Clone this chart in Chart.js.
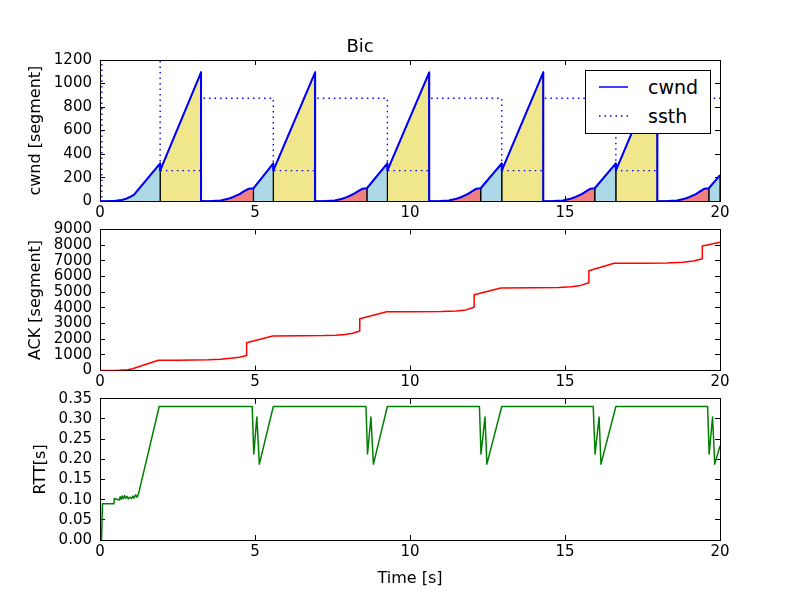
<!DOCTYPE html>
<html>
<head>
<meta charset="utf-8">
<title>Bic</title>
<script src="https://cdn.jsdelivr.net/npm/chart.js@4.4.1/dist/chart.umd.min.js"></script>
<style>
  body { margin: 0; background: #fff; }
  #wrap { position: relative; width: 800px; height: 600px; }
  #wrap canvas { position: absolute; left: 0; top: 0; }
  #legend { position: absolute; left: 585px; top: 70px; width: 124px; height: 62px;
            border: 1px solid #000; background: #fff; font-family: "DejaVu Sans"; font-size: 19px; color: #000; }
  #legend svg { position: absolute; left: 0; top: 0; }
  #legend span { position: absolute; left: 62px; line-height: 24px; }
</style>
</head>
<body>
<div id="wrap">
  <canvas id="cwndChart" width="800" height="600"></canvas>
  <canvas id="ackChart" width="800" height="600"></canvas>
  <canvas id="rttChart" width="800" height="600"></canvas>
  <div id="legend">
    <svg width="124" height="62">
      <line x1="13" y1="16" x2="42" y2="16" stroke="#0000ff" stroke-width="1.5"/>
      <line x1="13" y1="45" x2="42" y2="45" stroke="#0000ff" stroke-width="1.5" stroke-dasharray="1.5,4"/>
    </svg>
    <span style="top:4px">cwnd</span>
    <span style="top:33px">ssth</span>
  </div>
</div>
<script>
// Eixo de tempo e ticks
const xTicks = [0, 5, 10, 15, 20];
const cwndTicks = [0, 200, 400, 600, 800, 1000, 1200];
const ackTicks = [0, 1000, 2000, 3000, 4000, 5000, 6000, 7000, 8000, 9000];
const rttTicks = [0, 0.05, 0.10, 0.15, 0.20, 0.25, 0.30, 0.35];

// cwnd [segment]
const cwndT = [0, 0.3, 0.5, 0.7, 0.85, 1.0, 1.1, 1.94, 1.94, 3.26, 3.26,
  3.6, 3.9, 4.1, 4.3, 4.5, 4.65, 4.8, 4.95, 5.59, 5.59, 6.94, 6.94,
  7.28, 7.58, 7.78, 7.98, 8.18, 8.33, 8.47, 8.61, 9.27, 9.27, 10.62, 10.62,
  10.96, 11.26, 11.46, 11.66, 11.86, 12.01, 12.14, 12.28, 12.96, 12.96, 14.30, 14.30,
  14.64, 14.94, 15.14, 15.34, 15.54, 15.69, 15.82, 15.96, 16.64, 16.64, 17.98, 17.98,
  18.32, 18.62, 18.82, 19.02, 19.22, 19.37, 19.50, 19.64, 20];
const cwndV = [0, 1, 4, 10, 22, 40, 56, 321, 260, 1095, 0,
  1, 7, 18, 36, 60, 85, 106, 110, 321, 260, 1095, 0,
  1, 7, 18, 37, 61, 86, 106, 110, 322, 260, 1094, 0,
  1, 7, 18, 36, 60, 85, 106, 110, 321, 260, 1095, 0,
  1, 7, 18, 36, 60, 85, 106, 110, 321, 260, 1095, 0,
  1, 7, 18, 36, 60, 85, 106, 110, 221];

// ssth [segment] (valor inicial fora da escala)
const ssthT = [0, 0.06, 0.06, 1.94, 1.94, 3.26, 3.26, 5.59, 5.59, 6.94, 6.94, 9.27,
  9.27, 10.62, 10.62, 12.96, 12.96, 14.30, 14.30, 16.64, 16.64, 17.98, 17.98, 20];
const ssthV = [0, 0, 2000, 2000, 260, 260, 875, 875, 260, 260, 875, 875,
  260, 260, 875, 875, 260, 260, 875, 875, 260, 260, 875, 875];

// fases coloridas sob a curva de cwnd
const redPhases = [[3.26, 4.95], [6.94, 8.61], [10.62, 12.28], [14.30, 15.96], [17.98, 19.64]];
const bluePhases = [[0, 1.94], [4.95, 5.59], [8.61, 9.27], [12.28, 12.96], [15.96, 16.64], [19.64, 20]];
const yellowPhases = [[1.94, 3.26], [5.59, 6.94], [9.27, 10.62], [12.96, 14.30], [16.64, 17.98]];

// ACK [segment]
const ackT = [0, 0.5, 0.9, 1.05, 1.88, 2.5, 3.0, 3.5, 3.9, 4.2, 4.5, 4.73, 4.73, 5.57, 6.5,
  7.2, 7.6, 7.9, 8.15, 8.38, 8.38, 9.25, 10.0, 11.0, 11.5, 11.8, 12.07, 12.07, 12.93, 14.0,
  14.8, 15.2, 15.5, 15.77, 15.77, 16.58, 17.5, 18.3, 18.8, 19.15, 19.43, 19.43, 20];
const ackV = [0, 10, 60, 120, 660, 665, 672, 690, 730, 780, 850, 960, 1780, 2210, 2215,
  2230, 2260, 2300, 2380, 2520, 3310, 3750, 3755, 3770, 3800, 3870, 4040, 4830, 5270, 5275,
  5300, 5350, 5430, 5600, 6370, 6840, 6845, 6860, 6900, 6980, 7130, 7940, 8180];

// RTT [s]
const rttT = [0.05, 0.08, 0.45, 0.46, 0.6, 0.62, 0.65, 0.68, 0.72, 0.75, 0.8, 0.84, 0.88, 0.92,
  0.97, 1.02, 1.06, 1.1, 1.15, 1.2, 1.25, 1.91,
  4.91, 4.96, 5.06, 5.14, 5.59,
  8.58, 8.63, 8.74, 8.82, 9.27,
  12.24, 12.29, 12.42, 12.48, 12.96,
  15.91, 15.97, 16.10, 16.16, 16.64,
  19.60, 19.65, 19.76, 19.83, 20];
const rttV = [0, 0.090, 0.090, 0.103, 0.100, 0.099, 0.107, 0.101, 0.109, 0.102, 0.110, 0.103, 0.108, 0.102,
  0.106, 0.103, 0.109, 0.104, 0.112, 0.106, 0.117, 0.331,
  0.331, 0.213, 0.305, 0.188, 0.331,
  0.331, 0.213, 0.305, 0.188, 0.331,
  0.331, 0.213, 0.305, 0.188, 0.331,
  0.331, 0.213, 0.305, 0.188, 0.331,
  0.331, 0.213, 0.305, 0.188, 0.233];

const FONT = "DejaVu Sans";
Chart.defaults.font.family = FONT;
Chart.defaults.color = "#000";

const toXY = (ts, vs) => ts.map((t, i) => ({x: t, y: vs[i]}));

function phasePoints(t0, t1) {
  const pts = [{x: t0, y: 0}];
  cwndT.forEach((t, i) => { if (t >= t0 && t <= t1) pts.push({x: t, y: cwndV[i]}); });
  pts.push({x: t1, y: 0});
  return pts;
}

// ticks para dentro nos quatro lados, como no matplotlib
function frame(yTicks, yTitle, yTitlePad, fmt, xTitle) {
  const tickFont = {family: FONT, size: 15};
  const inward = {display: true, drawOnChartArea: false, drawTicks: true, tickLength: -5, color: "#000", lineWidth: 1};
  const edge = {display: true, color: "#000", width: 1};
  const fixTicks = arr => axis => { axis.ticks = arr.map(v => ({value: v})); };
  const xLim = {min: xTicks[0], max: xTicks[xTicks.length - 1]};
  const yLim = {min: yTicks[0], max: yTicks[yTicks.length - 1]};
  return {
    x: {
      type: "linear", position: "bottom", ...xLim, z: 1, grid: inward, border: edge,
      afterBuildTicks: fixTicks(xTicks),
      ticks: {font: tickFont, padding: 8, maxRotation: 0, autoSkip: false, callback: v => String(v)},
      title: xTitle ? {display: true, text: xTitle, font: {size: 16}, padding: {top: 0, bottom: 2}} : {display: false},
      afterFit: s => { s.height = xTitle ? 50 : 30; }
    },
    xTop: {
      type: "linear", axis: "x", position: "top", ...xLim, z: 1, grid: inward, border: edge,
      afterBuildTicks: fixTicks(xTicks), ticks: {display: false},
      afterFit: s => { s.height = 0; }
    },
    y: {
      type: "linear", position: "left", ...yLim, z: 1, grid: inward, border: edge,
      afterBuildTicks: fixTicks(yTicks),
      ticks: {font: tickFont, padding: 13, autoSkip: false, callback: fmt},
      title: {display: true, text: yTitle, font: {size: 16}, padding: {top: yTitlePad, bottom: 0}},
      afterFit: s => { s.width = 100; }
    },
    yRight: {
      type: "linear", axis: "y", position: "right", ...yLim, z: 1, grid: inward, border: edge,
      afterBuildTicks: fixTicks(yTicks), ticks: {display: false},
      afterFit: s => { s.width = 0; }
    }
  };
}

const common = {
  responsive: false,
  animation: false,
  events: [],
  elements: {point: {radius: 0}, line: {tension: 0, borderJoinStyle: "round"}},
};

// Gráfico 1: cwnd e ssth
const cwndSets = [
  {label: "cwnd", data: toXY(cwndT, cwndV), borderColor: "#0000ff", borderWidth: 2, fill: false},
  {label: "ssth", data: toXY(ssthT, ssthV), borderColor: "#0000ff", borderWidth: 1.4, borderDash: [1.5, 4], fill: false},
];
[[redPhases, "#f08080"], [bluePhases, "#add8e6"], [yellowPhases, "#f0e68c"]].forEach(([phases, color]) => {
  phases.forEach(([t0, t1]) => {
    cwndSets.push({data: phasePoints(t0, t1), borderColor: "#000", borderWidth: 1.2,
      backgroundColor: color, fill: "origin"});
  });
});

new Chart(document.getElementById("cwndChart"), {
  type: "line",
  data: {datasets: cwndSets},
  options: {
    ...common,
    layout: {padding: {top: 0, left: 0, right: 80, bottom: 368.8}},
    plugins: {
      legend: {display: false},
      tooltip: {enabled: false},
      title: {display: true, text: "Bic", font: {size: 18, weight: "normal"}, padding: {top: 37, bottom: 1.4}},
    },
    scales: frame(cwndTicks, "cwnd [segment]", 26, v => String(v), null)
  }
});

// Gráfico 2: ACK
new Chart(document.getElementById("ackChart"), {
  type: "line",
  data: {datasets: [{label: "ACK", data: toXY(ackT, ackV), borderColor: "#ff0000", borderWidth: 1.5, fill: false}]},
  options: {
    ...common,
    layout: {padding: {top: 229.4, left: 0, right: 80, bottom: 199.4}},
    plugins: {legend: {display: false}, tooltip: {enabled: false}},
    scales: frame(ackTicks, "ACK [segment]", 26, v => String(v), null)
  }
});

// Gráfico 3: RTT
new Chart(document.getElementById("rttChart"), {
  type: "line",
  data: {datasets: [{label: "RTT", data: toXY(rttT, rttV), borderColor: "#008000", borderWidth: 1.5, fill: false}]},
  options: {
    ...common,
    layout: {padding: {top: 398.8, left: 0, right: 80, bottom: 10}},
    plugins: {legend: {display: false}, tooltip: {enabled: false}},
    scales: frame(rttTicks, "RTT[s]", 31, v => v.toFixed(2), "Time [s]")
  }
});
</script>
</body>
</html>
